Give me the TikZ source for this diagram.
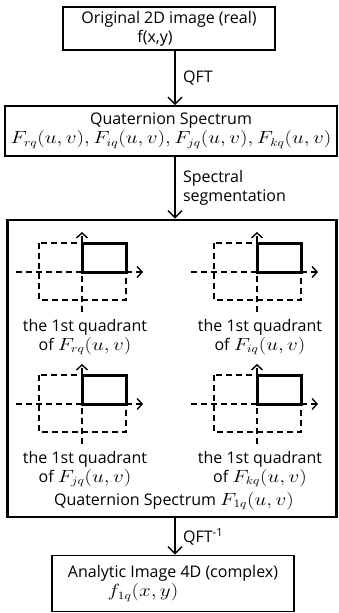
\documentclass[tikz,border=0pt]{standalone}
\usepackage{amsmath,graphicx}
\usepackage{fontspec}
\setmainfont{Open Sans}
\usetikzlibrary{arrows.meta,positioning}
\newcommand{\qm}[1]{\scalebox{1.22}[1.02]{$#1$}}

\begin{document}
\begin{tikzpicture}[x=1pt,y=-1pt,font=\fontsize{16}{19}\selectfont,
    box/.style={draw,line width=1.6pt,align=center,inner sep=0pt},
    bigbox/.style={draw,line width=2.6pt,inner sep=0pt},
    flow/.style={-{Straight Barb[length=7pt,width=14pt]},line width=1.5pt},
    axis/.style={dash pattern=on 6pt off 4pt,line width=1.4pt,-{Straight Barb[length=5pt,width=11pt]}},
    dbox/.style={dash pattern=on 6pt off 4pt,line width=1.4pt},
    quad/.style={line width=3pt}]
    \useasboundingbox (0,0) rectangle (338,613);
    \node[box,minimum width=212pt,minimum height=43pt] (orig) at (169,28.5) {Original 2D image (real)\\f(x,y)\hspace*{28pt}};
    \node[box,minimum width=332pt,minimum height=50pt] (spec) at (171,131) {Quaternion Spectrum\\\qm{F_{rq}(u,v), F_{iq}(u,v), F_{jq}(u,v), F_{kq}(u,v)}};
    \node[bigbox,minimum width=329pt,minimum height=297pt] (seg) at (172,368.5) {};
    \node[box,minimum width=242pt,minimum height=56pt] (ana) at (173,583.5) {Analytic Image 4D (complex)\\\qm{f_{1q}(x,y)}\hspace*{60pt}};
    % quadrant sketches
    \foreach \ox/\oy/\lab in {82/272/rq,257/272/iq,82/404/jq,257/404/kq} {
        \begin{scope}[shift={(\ox,\oy)}]
            \draw[dbox] (-43,-29) rectangle (44,28);
            \draw[axis] (-66,0) -- (61,0);
            \draw[axis] (0,40) -- (0,-40);
            \draw[quad] (0,-29) rectangle (44,0);
            \node[align=center] (q\lab) at (3,65) {the 1st quadrant\\of \qm{F_{\lab}(u,v)}};
        \end{scope}
    }
    \node (seglab) at (174,501) {Quaternion Spectrum \qm{F_{1q}(u,v)}};
    \draw[flow] ([xshift=6pt]orig.south) -- node[right=4pt] {QFT} ([xshift=4pt]spec.north);
    \draw[flow] ([xshift=4pt]spec.south) -- node[right=4pt,align=left] {Spectral\\segmentation} ([xshift=3pt]seg.north);
    \draw[flow] ([xshift=3pt]seg.south) -- node[right=4pt] {QFT\textsuperscript{-1}} ([xshift=2pt]ana.north);
\end{tikzpicture}
\end{document}
